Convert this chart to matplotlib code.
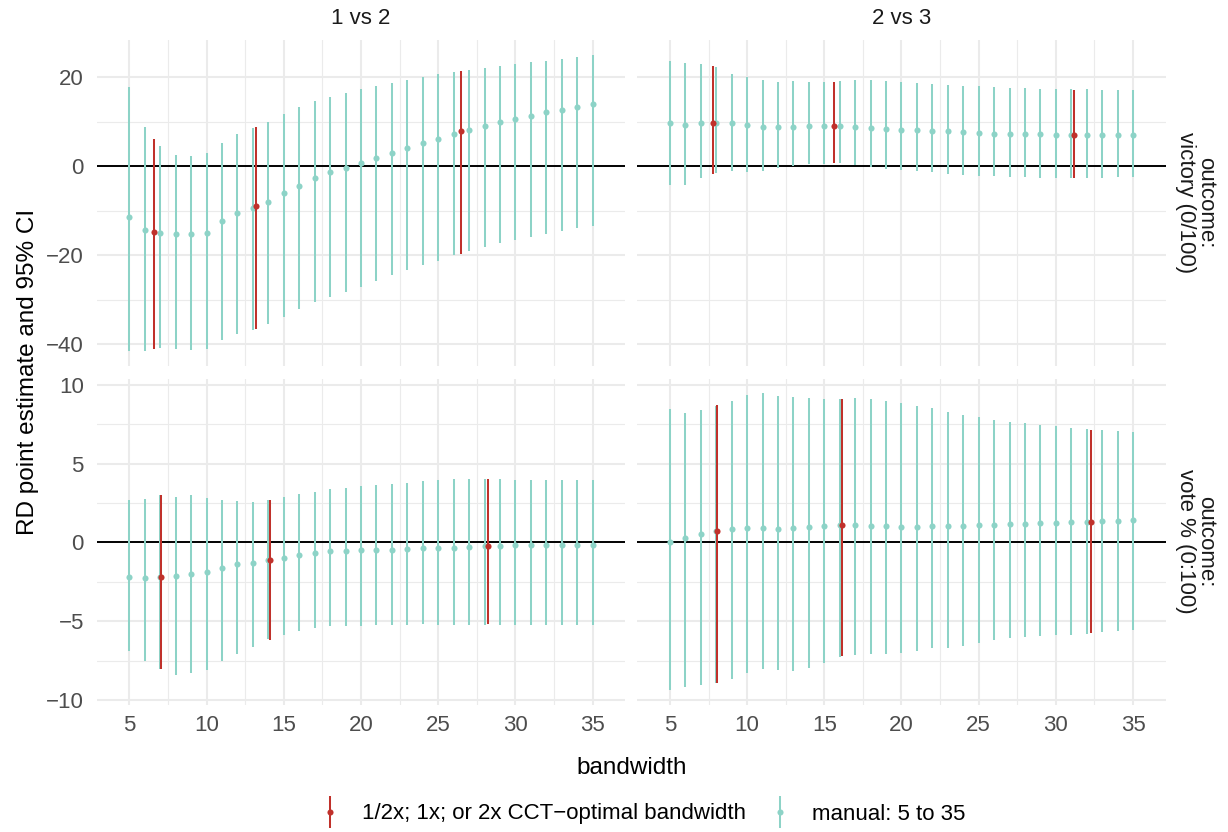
import matplotlib
matplotlib.use("Agg")
import matplotlib.pyplot as plt
from matplotlib.lines import Line2D
from matplotlib.legend_handler import HandlerTuple
import numpy as np

plt.rcParams['font.family'] = ['Liberation Sans', 'DejaVu Sans']

# ---------------- data ----------------
bandwidth = list(range(5, 36))

# row 1: outcome victory (0/100), col 1: "1 vs 2"
vic12_est = [-11.5, -14.2, -14.9, -15.2, -15.2, -14.9, -12.4, -10.5, -9.3, -8.0, -6.1, -4.4, -2.7, -1.4, -0.4, 0.7,
             1.8, 2.9, 4.1, 5.2, 6.2, 7.2, 8.2, 9.0, 9.9, 10.5, 11.3, 12.1, 12.7, 13.3, 13.9]
vic12_hi = [17.7, 8.7, 4.6, 2.6, 2.4, 2.9, 5.2, 7.2, 8.5, 9.9, 11.7, 13.3, 14.6, 15.5, 16.4, 17.3,
            17.9, 18.6, 19.3, 20.0, 20.6, 21.2, 21.6, 22.1, 22.5, 23.0, 23.4, 23.7, 24.1, 24.6, 25.0]
vic12_lo = [-41.5, -41.5, -40.7, -41.1, -41.3, -41.1, -39.0, -37.7, -36.8, -35.5, -33.8, -32.1, -30.5, -29.4, -28.3, -27.1,
            -25.8, -24.4, -23.3, -22.2, -21.2, -20.0, -19.0, -18.1, -17.2, -16.5, -15.8, -15.1, -14.5, -13.9, -13.3]

# row 1, col 2: "2 vs 3"
vic23_est = [9.6, 9.3, 9.6, 9.6, 9.6, 9.3, 8.9, 8.7, 8.9, 9.0, 9.0, 9.0, 8.8, 8.6, 8.3, 8.1,
             8.1, 8.0, 7.8, 7.6, 7.5, 7.3, 7.2, 7.2, 7.2, 7.1, 7.1, 7.1, 7.0, 7.0, 7.0]
vic23_hi = [23.7, 23.1, 23.0, 22.2, 20.7, 20.0, 19.3, 18.8, 19.1, 19.0, 18.9, 19.1, 19.3, 19.4, 19.1, 18.8,
            18.7, 18.5, 18.3, 18.1, 17.9, 17.7, 17.6, 17.5, 17.3, 17.3, 17.3, 17.3, 17.2, 17.2, 17.2]
vic23_lo = [-4.3, -4.3, -2.7, -1.6, -1.1, -1.4, -1.1, -0.4, 0.0, 0.4, 0.5, 0.7, 0.2, -0.2, -0.7, -0.8,
            -1.1, -1.4, -1.7, -2.0, -2.2, -2.3, -2.4, -2.5, -2.6, -2.7, -2.6, -2.6, -2.6, -2.5, -2.5]

# row 2: outcome vote % (0:100), col 1
vote12_est = [-2.19, -2.26, -2.21, -2.13, -1.98, -1.89, -1.62, -1.38, -1.28, -1.13, -0.96, -0.81, -0.66, -0.57, -0.53, -0.49,
              -0.47, -0.45, -0.43, -0.38, -0.36, -0.32, -0.28, -0.23, -0.21, -0.19, -0.17, -0.17, -0.15, -0.15, -0.13]
vote12_hi = [2.70, 2.74, 3.00, 2.91, 3.02, 2.81, 2.70, 2.60, 2.57, 2.70, 2.91, 3.06, 3.21, 3.36, 3.47, 3.55,
             3.62, 3.70, 3.79, 3.89, 3.94, 4.00, 4.02, 4.04, 4.00, 3.98, 3.96, 3.94, 3.94, 3.94, 3.94]
vote12_lo = [-6.91, -7.53, -8.00, -8.43, -8.26, -8.09, -7.53, -7.06, -6.64, -6.10, -5.89, -5.64, -5.43, -5.32, -5.28, -5.28,
             -5.26, -5.23, -5.21, -5.19, -5.21, -5.21, -5.21, -5.21, -5.21, -5.21, -5.23, -5.23, -5.23, -5.26, -5.26]

# row 2, col 2
vote23_est = [0.04, 0.28, 0.51, 0.75, 0.87, 0.94, 0.91, 0.87, 0.91, 1.00, 1.06, 1.09, 1.09, 1.04, 1.02, 1.00,
              1.00, 1.02, 1.04, 1.06, 1.09, 1.11, 1.15, 1.19, 1.23, 1.23, 1.28, 1.32, 1.36, 1.38, 1.43]
vote23_hi = [8.47, 8.21, 8.40, 8.68, 8.96, 9.36, 9.45, 9.30, 9.23, 9.15, 9.11, 9.11, 9.15, 9.11, 9.00, 8.83,
             8.66, 8.51, 8.30, 8.11, 7.94, 7.77, 7.64, 7.57, 7.45, 7.36, 7.26, 7.19, 7.11, 7.06, 7.02]
vote23_lo = [-9.34, -9.19, -9.06, -8.90, -8.64, -8.30, -8.02, -8.11, -8.15, -7.94, -7.62, -7.25, -7.11, -7.09, -7.04, -6.98,
             -6.85, -6.72, -6.66, -6.55, -6.40, -6.19, -6.06, -5.98, -5.94, -5.89, -5.85, -5.79, -5.70, -5.64, -5.55]

# CCT-optimal bandwidths (1/2x, 1x, 2x)
cct_vic12_bw = [6.6, 13.2, 26.5]
cct_vic12_est = [-14.8, -9.0, 7.8]
cct_vic12_lo = [-40.9, -36.6, -19.6]
cct_vic12_hi = [6.0, 8.9, 21.4]

cct_vic23_bw = [7.8, 15.6, 31.2]
cct_vic23_est = [9.6, 9.0, 7.1]
cct_vic23_lo = [-1.7, 0.7, -2.6]
cct_vic23_hi = [22.5, 19.0, 17.2]

cct_vote12_bw = [7.05, 14.1, 28.2]
cct_vote12_est = [-2.21, -1.11, -0.23]
cct_vote12_lo = [-8.04, -6.19, -5.19]
cct_vote12_hi = [3.02, 2.70, 4.00]

cct_vote23_bw = [8.06, 16.14, 32.3]
cct_vote23_est = [0.74, 1.09, 1.32]
cct_vote23_lo = [-8.94, -7.21, -5.77]
cct_vote23_hi = [8.72, 9.11, 7.15]

col_labels = ["1 vs 2", "2 vs 3"]
row_labels = ["outcome:\nvictory (0/100)", "outcome:\nvote % (0:100)"]
legend_labels = ["1/2x; 1x; or 2x CCT\u2212optimal bandwidth", "manual: 5 to 35"]

row1_ticks = [20, 0, -20, -40]
row1_minor = [10, -10, -30]
row2_ticks = [10, 5, 0, -5, -10]
row2_minor = [7.5, 2.5, -2.5, -7.5]
x_ticks = [5, 10, 15, 20, 25, 30, 35]
x_minor = [7.5, 12.5, 17.5, 22.5, 27.5, 32.5]

# ---------------- style ----------------
TEAL = "#8DD3C7"
RED = "#C0312B"
GRID = "#EBEBEB"
TICKCOL = "#4D4D4D"
SMALL = 16
TITLE = 17.5

W, H = 1228, 832
fig = plt.figure(figsize=(W / 100, H / 100), dpi=100)

def fx(px):
    return px / W

def fy(py):
    return 1 - py / H

left_x = (97, 625)
right_x = (637.5, 1165.5)
top_y = (40, 366)
bot_y = (378.6, 704.6)

def make_ax(xr, yr):
    return fig.add_axes([fx(xr[0]), fy(yr[1]), fx(xr[1] - xr[0]), (yr[1] - yr[0]) / H])

panels = [
    (make_ax(left_x, top_y), vic12_est, vic12_lo, vic12_hi,
     cct_vic12_bw, cct_vic12_est, cct_vic12_lo, cct_vic12_hi, 0, 0),
    (make_ax(right_x, top_y), vic23_est, vic23_lo, vic23_hi,
     cct_vic23_bw, cct_vic23_est, cct_vic23_lo, cct_vic23_hi, 0, 1),
    (make_ax(left_x, bot_y), vote12_est, vote12_lo, vote12_hi,
     cct_vote12_bw, cct_vote12_est, cct_vote12_lo, cct_vote12_hi, 1, 0),
    (make_ax(right_x, bot_y), vote23_est, vote23_lo, vote23_hi,
     cct_vote23_bw, cct_vote23_est, cct_vote23_lo, cct_vote23_hi, 1, 1),
]

row_data = {0: vic12_lo + vic12_hi + vic23_lo + vic23_hi + cct_vic12_lo + cct_vic12_hi + cct_vic23_lo + cct_vic23_hi,
            1: vote12_lo + vote12_hi + vote23_lo + vote23_hi + cct_vote12_lo + cct_vote12_hi + cct_vote23_lo + cct_vote23_hi}

LW = 1.45
MS = 4.4

for ax, est, lo, hi, cbw, cest, clo, chi, r, c in panels:
    ymin, ymax = min(row_data[r]), max(row_data[r])
    pad = 0.05 * (ymax - ymin)
    ax.set_ylim(ymin - pad, ymax + pad)
    ax.set_xlim(5 - 2.1, 35 + 2.1)
    for s in ax.spines.values():
        s.set_visible(False)
    ax.set_xticks(x_ticks)
    ax.set_xticks(x_minor, minor=True)
    if r == 0:
        ax.set_yticks(row1_ticks)
        ax.set_yticks(row1_minor, minor=True)
    else:
        ax.set_yticks(row2_ticks)
        ax.set_yticks(row2_minor, minor=True)
    ax.grid(True, which='major', color=GRID, linewidth=1.5, zorder=0)
    ax.grid(True, which='minor', color=GRID, linewidth=0.8, zorder=0)
    ax.set_axisbelow(True)
    ax.tick_params(which='both', length=0, labelsize=SMALL, labelcolor=TICKCOL)
    ax.tick_params(axis='y', pad=9.5)
    ax.tick_params(axis='x', pad=7.5)
    if c == 1:
        ax.tick_params(labelleft=False)
    else:
        ax.set_yticklabels([f"{t:g}".replace("-", "\u2212") for t in ax.get_yticks()])
    if r == 0:
        ax.tick_params(labelbottom=False)
    else:
        ax.set_xticklabels([str(t) for t in x_ticks])
    ax.axhline(0, color="black", linewidth=1.4, zorder=1)
    ax.vlines(bandwidth, lo, hi, color=TEAL, linewidth=LW, zorder=2)
    ax.plot(bandwidth, est, 'o', color=TEAL, markersize=MS, markeredgewidth=0, zorder=3)
    ax.vlines(cbw, clo, chi, color=RED, linewidth=LW, zorder=4)
    ax.plot(cbw, cest, 'o', color=RED, markersize=MS, markeredgewidth=0, zorder=5)

# strip labels
fig.text(fx((left_x[0] + left_x[1]) / 2), fy(19), col_labels[0], ha='center', va='center',
         fontsize=SMALL, color="#1A1A1A")
fig.text(fx((right_x[0] + right_x[1]) / 2), fy(19), col_labels[1], ha='center', va='center',
         fontsize=SMALL, color="#1A1A1A")
fig.text(fx(1196), fy((top_y[0] + top_y[1]) / 2), row_labels[0], ha='center', va='center',
         rotation=-90, fontsize=SMALL, color="#1A1A1A", linespacing=0.95)
fig.text(fx(1196), fy((bot_y[0] + bot_y[1]) / 2), row_labels[1], ha='center', va='center',
         rotation=-90, fontsize=SMALL, color="#1A1A1A", linespacing=0.95)

# axis titles
fig.text(fx(28), fy((top_y[0] + bot_y[1]) / 2), "RD point estimate and 95% CI", rotation=90,
         ha='center', va='center', fontsize=TITLE, color="black")
fig.text(fx((left_x[0] + right_x[1]) / 2), fy(768), "bandwidth", ha='center', va='center',
         fontsize=TITLE, color="black")

# legend
def glyph(color):
    return (Line2D([], [], marker='|', markersize=23, markeredgewidth=LW, color=color, linestyle='None'),
            Line2D([], [], marker='o', markersize=MS, markeredgewidth=0, color=color, linestyle='None'))

leg = fig.legend([glyph(RED), glyph(TEAL)], legend_labels,
                 handler_map={tuple: HandlerTuple(ndivide=1, pad=0)},
                 loc='center', bbox_to_anchor=(fx(642), fy(814)), ncol=2, frameon=False,
                 fontsize=SMALL, handlelength=1.0, handletextpad=0.95, columnspacing=1.0,
                 borderpad=0, borderaxespad=0)

fig.savefig("out.png", dpi=100)
